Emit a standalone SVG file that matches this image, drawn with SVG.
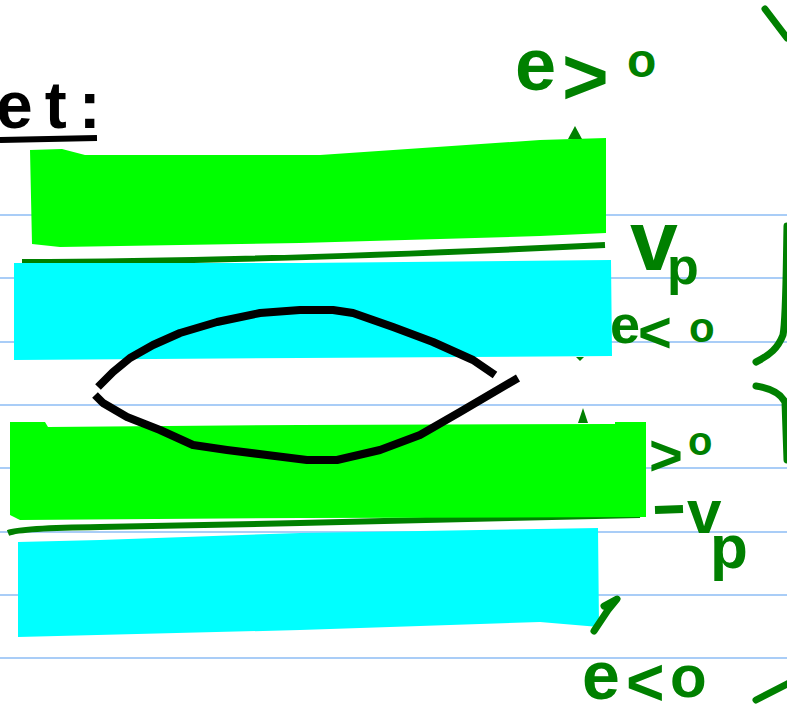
<svg xmlns="http://www.w3.org/2000/svg" width="787" height="705" viewBox="0 0 787 705">
<style>
.rule{stroke:#a9cdf7;stroke-width:2;fill:none}
.dg{fill:none;stroke:#008000;stroke-width:7;stroke-linecap:round;stroke-linejoin:round}
.hw{font-family:"Liberation Sans","DejaVu Sans",sans-serif;font-weight:bold;fill:#008000}
.band-g{fill:#00ff00}
.band-c{fill:#00ffff}
.lens{fill:none;stroke:#000;stroke-width:8;stroke-linejoin:round}
</style>
<rect width="787" height="705" fill="#ffffff"/>
<g id="rules">
<line class="rule" x1="0" y1="215" x2="787" y2="215"/>
<line class="rule" x1="0" y1="278" x2="787" y2="278"/>
<line class="rule" x1="0" y1="342" x2="787" y2="342"/>
<line class="rule" x1="0" y1="405" x2="787" y2="405"/>
<line class="rule" x1="0" y1="468" x2="787" y2="468"/>
<line class="rule" x1="0" y1="532" x2="787" y2="532"/>
<line class="rule" x1="0" y1="595" x2="787" y2="595"/>
<line class="rule" x1="0" y1="658" x2="787" y2="658"/>
</g>
<g id="heading">
<text x="-4" y="128" font-family="Liberation Sans, sans-serif" font-weight="bold" font-size="66" letter-spacing="12" fill="#000">et:</text>
<line x1="0" y1="140" x2="97" y2="138" stroke="#000" stroke-width="6"/>
</g>
<g id="hidden-marks">
<text class="hw" x="608" y="470" font-size="60">e</text>
<path d="M8,533 Q20,528 100,527 L300,523 L640,515" stroke="#008000" stroke-width="6" fill="none"/>
</g>
<g id="layer-green-1"><path class="band-g" d="M30,150 L62,149 L85,155 L320,155 L540,140 L606,138 L606,233 L540,236 L300,243 L60,247 L32,244 Z"/></g>
<g id="interface-1"><path d="M22,262 C200,262 400,255 605,245" stroke="#008000" stroke-width="6" fill="none"/></g>
<g id="layer-cyan-1"><path class="band-c" d="M14,263 L300,263 L611,260 L612,356 L300,358 L14,360 Z"/></g>
<g id="layer-green-2"><path class="band-g" d="M10,422 L45,422 L48,427 L300,425 L615,424 L615,422 L646,422 L646,517 L300,518 L20,520 L10,515 Z"/></g>
<g id="layer-cyan-2"><path class="band-c" d="M18,542 L100,540 L300,533 L598,528 L599,627 L540,622 L300,630 L18,637 Z"/></g>
<g id="lens">
<path class="lens" d="M495,375 L473,360 L433,342 L393,327 L353,313 L333,310 L300,310 L260,313 L217,322 L180,333 L153,345 L130,358 L113,372 L98,387"/>
<path class="lens" d="M95,395 L103,403 L127,417 L160,430 L193,445 L227,450 L267,455 L307,460 L337,460 L380,450 L420,435 L460,412 L518,378"/>
</g>
<g id="arrows">
<polygon points="568,139 575,126 582,139" fill="#008000"/>
<polygon points="576,357 580,361 584,357" fill="#008000"/>
<polygon points="578,423 583,408 588,423" fill="#008000"/>
<path class="dg" d="M594,631 L608,610 L617,599 L604,606"/>
</g>
<g id="labels">
<text class="hw" x="515" y="90" font-size="74">e</text>
<text class="hw" x="562" y="104" font-size="80">&gt;</text>
<text class="hw" x="627" y="77" font-size="48">o</text>

<text class="hw" x="630" y="270" font-size="86">v</text>
<text class="hw" x="667" y="284" font-size="52">p</text>
<text class="hw" x="610" y="343" font-size="54">e</text>
<text class="hw" x="638" y="352" font-size="58">&lt;</text>
<text class="hw" x="689" y="342" font-size="42">o</text>

<text class="hw" x="649" y="475" font-size="58">&gt;</text>
<text class="hw" x="688" y="455" font-size="40">o</text>

<line x1="655" y1="510" x2="683" y2="509" stroke="#008000" stroke-width="8"/>
<text class="hw" x="687" y="533" font-size="62">v</text>
<text class="hw" x="710" y="568" font-size="62">p</text>

<text class="hw" x="582" y="699" font-size="68">e</text>
<text class="hw" x="626" y="705" font-size="66">&lt;</text>
<text class="hw" x="670" y="697" font-size="60">o</text>
</g>
<g id="braces">
<path class="dg" d="M765,9 L787,38"/>
<path class="dg" d="M787,226 C786,280 786,320 783,335 C778,348 770,355 756,362"/>
<path class="dg" d="M756,386 C768,388 780,392 785,402 L787,460"/>
<path class="dg" d="M756,700 L787,684"/>
</g>
</svg>
